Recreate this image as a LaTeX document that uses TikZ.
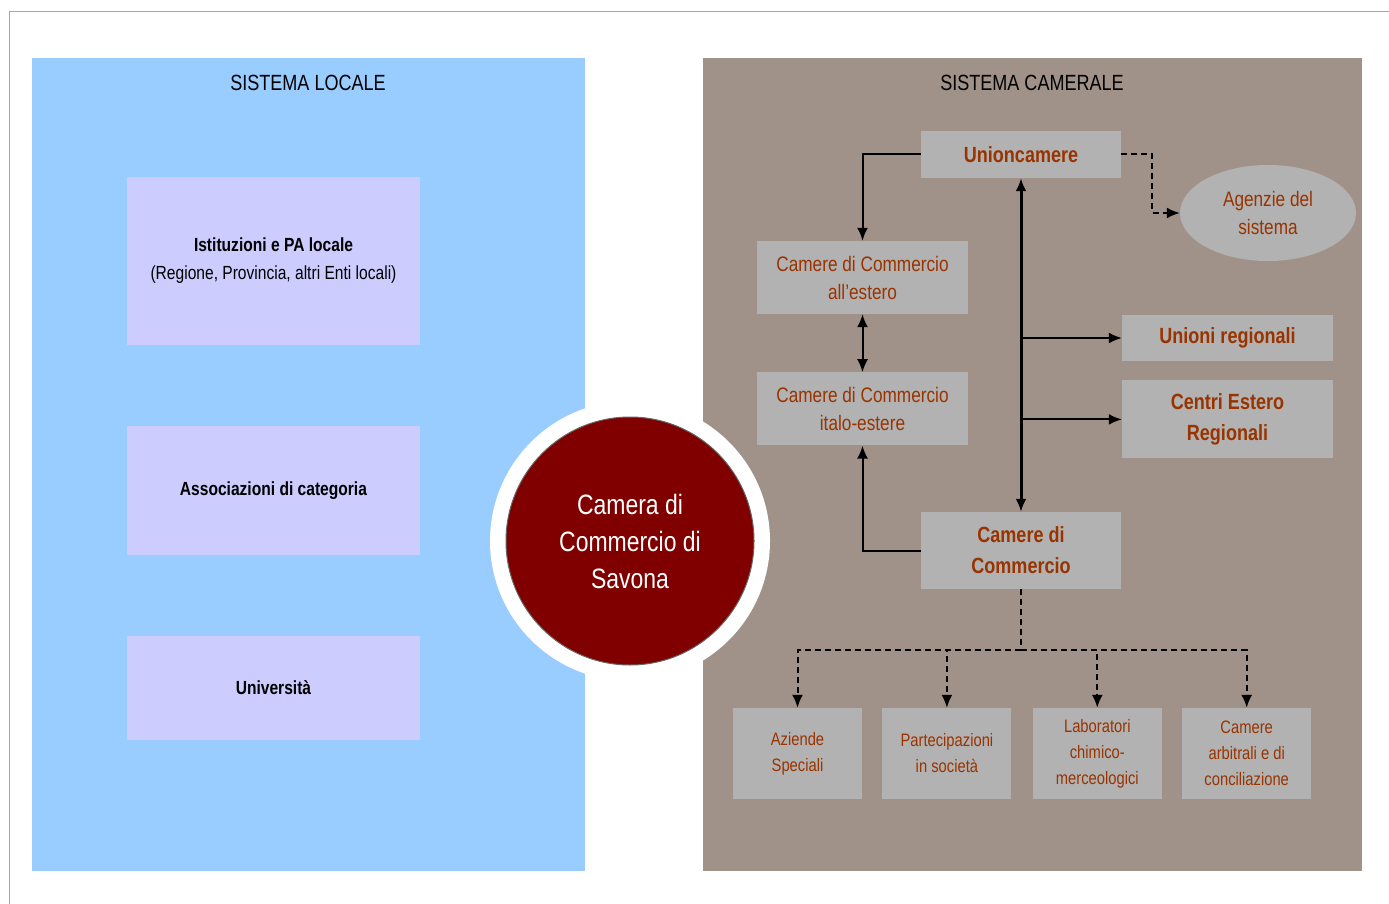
\documentclass[tikz,border=0pt]{standalone}
\usepackage{fontspec}
\setmainfont{Liberation Sans}[FakeStretch=0.82]
\usetikzlibrary{positioning,arrows,arrows.meta,calc,shapes.geometric}
\definecolor{colorlocale}  {RGB}{153,204,255}
\definecolor{colorcamerale}{RGB}{160,146,137}
\definecolor{colorente}    {RGB}{204,204,255}
\definecolor{colorbox}     {RGB}{178,178,178}
\definecolor{colortext}    {RGB}{153, 51,  0}
\definecolor{colorsavona}  {RGB}{128,  0,  0}

\begin{document}
\begin{tikzpicture}[
    x=1pt, y=-1pt,
    node distance = 20pt, auto,
    font={\fontsize{21}{28}\selectfont},
    >={Latex[length=13pt,width=11pt]},
    panel/.style={inner sep=0pt,rectangle,anchor=north west,minimum height=813pt},
    title/.style={font={\fontsize{22}{26}\selectfont}},
    ente/.style={font={\fontsize{19}{28}\selectfont},fill=colorente,inner sep=0pt,minimum width=293pt,align=center},
    base/.style={fill=colorbox,text=colortext,inner sep=0pt,align=center,rectangle},
    basebold/.style={base,font={\fontsize{22}{31}\selectfont\bfseries}},
    small/.style={base,font={\fontsize{18}{26}\selectfont},minimum width=129pt,minimum height=91pt},
    link/.style={->,line width=2pt},
    dashlink/.style={dash pattern=on 6pt off 4pt},
]
    \useasboundingbox (0,0) rectangle (1389,904);
    \draw[black!35,line width=1pt] (9,904) |- (1389,12);

    \node[panel,fill=colorlocale,minimum width=553pt]   (locale)   at (32,58)  {};
    \node[panel,fill=colorcamerale,minimum width=659pt] (camerale) at (703,58) {};
    \node[title] (titlelocale)   at (308,83)  {SISTEMA LOCALE};
    \node[title] (titlecamerale) at (1032,83) {SISTEMA CAMERALE};

    % sistema locale
    \node[ente,minimum height=168pt] (istituzioni) at (273.5,261) {\textbf{Istituzioni e PA locale}\\(Regione, Provincia, altri Enti locali)};
    \node[ente,minimum height=129pt] (associazioni) at (273.5,490.5) {\textbf{Associazioni di categoria}};
    \node[ente,minimum height=104pt] (universita) at (273.5,688) {\textbf{Università}};

    \node[circle,fill=white,minimum size=280pt,inner sep=0pt] (ring) at (630,541) {};
    \node[circle,fill=colorsavona,draw=black!60,line width=1pt,minimum size=248pt,inner sep=0pt,
          text=white,align=center,font={\fontsize{28}{37}\selectfont}] (savona) at (630,541) {Camera di\\Commercio di\\Savona};

    % sistema camerale
    \node[basebold,minimum width=200pt,minimum height=47pt] (unioncamere) at (1021,154.5) {Unioncamere};
    \node[ellipse,fill=colorbox,text=colortext,minimum width=176pt,minimum height=96pt,inner sep=0pt,align=center] (agenzie) at (1268,213) {Agenzie del\\sistema};
    \node[base,minimum width=211pt,minimum height=73pt] (estero) at (862.5,277.5) {Camere di Commercio\\all'estero};
    \node[base,minimum width=211pt,minimum height=73pt,below=58pt of estero] (italoestere) {Camere di Commercio\\italo-estere};
    \node[basebold,minimum width=211pt,minimum height=46pt] (unioni) at (1227.5,338) {Unioni regionali};
    \node[basebold,minimum width=211pt,minimum height=78pt,below=19pt of unioni] (centri) {Centri Estero\\Regionali};
    \node[basebold,minimum width=200pt,minimum height=77pt] (camere) at (1021,550.5) {Camere di\\Commercio};

    \node[small] (aziende) at (797.5,753.5) {Aziende\\Speciali};
    \node[small,right=20pt of aziende] (partecipazioni) {Partecipazioni\\in società};
    \node[small,right=21pt of partecipazioni] (laboratori) {Laboratori\\chimico-\\merceologici};
    \node[small,right=20pt of laboratori] (arbitrali) {Camere\\arbitrali e di\\conciliazione};

    \draw[link](unioncamere.west) -| (estero.north);
    \draw[link,dashlink](unioncamere.east) -- ++(31,0) |- (agenzie.west);

    \draw[<->,line width=3pt](unioncamere.south) -- (camere.north);
    \draw[link](unioncamere.south |- unioni.west) -- (unioni.west);
    \draw[link](unioncamere.south |- centri.west) -- (centri.west);

    \draw[link,<->](estero.south) -- (italoestere.north);
    \draw[link](camere.west) -| (italoestere.south);

    \coordinate (split) at ($(camere.south)+(0,61)$);
    \draw[dashlink,line width=2pt](camere.south) -- (split);
    \draw[link,dashlink](split) -| (aziende.north);
    \draw[link,dashlink](split) -| (partecipazioni.north);
    \draw[link,dashlink](split) -| (laboratori.north);
    \draw[link,dashlink](split) -| (arbitrali.north);

\end{tikzpicture}
\end{document}
